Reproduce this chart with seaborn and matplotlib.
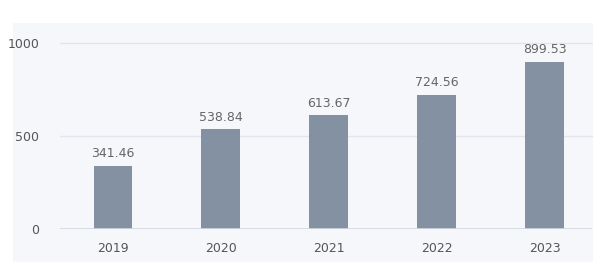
import matplotlib
matplotlib.use("Agg")
import matplotlib.pyplot as plt
import seaborn as sns
import pandas as pd

years = ["2019", "2020", "2021", "2022", "2023"]
values = [341.46, 538.84, 613.67, 724.56, 899.53]
yticks = [0, 500, 1000]

sns.set_theme(style="white")
plt.rcParams["font.family"] = ["DejaVu Sans"]

df = pd.DataFrame({"year": years, "value": values})

fig = plt.figure(figsize=(5.95, 2.78), dpi=100)
fig.patch.set_facecolor("white")

# panel background as its own axes underneath
bg = fig.add_axes([13 / 595, 1 - 262 / 278, (593 - 13) / 595, (262 - 23) / 278])
bg.set_facecolor("#f5f7fb")
bg.set_xticks([])
bg.set_yticks([])
for s in bg.spines.values():
    s.set_visible(False)
bg.set_zorder(0)

ax = fig.add_axes([60 / 595, 1 - 229.3 / 278, (592 - 60) / 595, (229.3 - 43.3) / 278])
ax.set_facecolor("none")
ax.set_zorder(1)

sns.barplot(data=df, x="year", y="value", color="#8391a3", width=0.36,
            saturation=1, linewidth=0, ax=ax, zorder=3)

ax.set_ylim(0, 1000)
ax.set_xlim(-0.491, 4.44)
ax.set_yticks(yticks)
ax.set_yticklabels([str(t) for t in yticks])
ax.set_xlabel("")
ax.set_ylabel("")

for t in yticks[1:]:
    ax.axhline(t, color="#e2e5eb", lw=1, zorder=1, clip_on=False)
ax.axhline(0, color="#d3d7de", lw=1.2, zorder=4)

for s in ax.spines.values():
    s.set_visible(False)

ax.tick_params(axis="y", length=0, pad=15, labelsize=9, labelcolor="#555555")
ax.tick_params(axis="x", length=0, pad=9, labelsize=9, labelcolor="#555555")

for c in ax.containers:
    ax.bar_label(c, labels=[f"{v:.2f}" for v in values], padding=4,
                 fontsize=9, color="#666666")

fig.savefig("out.png", dpi=100, facecolor="white")
